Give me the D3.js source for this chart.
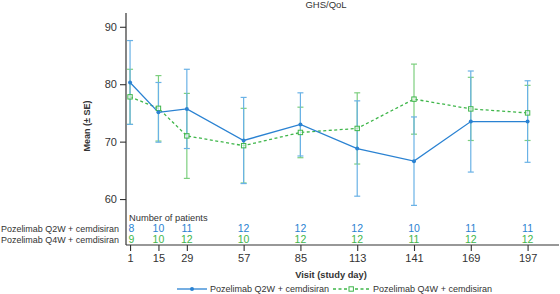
<!DOCTYPE html>
<html>
<head>
<meta charset="utf-8">
<script src="https://cdn.jsdelivr.net/npm/d3@7"></script>
<style>
    body { margin: 0; background: #fff; }
    text { font-family: Arial, "Liberation Sans", sans-serif; }
</style>
</head>
<body>
<div id="vis"></div>
<script>
//set up static width and height
const width = 560
const height = 294

//data
const days = [1, 15, 29, 57, 85, 113, 141, 169, 197]
const q2wMean = [80.3, 75.1, 75.7, 70.2, 73.0, 68.8, 66.6, 73.5, 73.5]
const q2wSE = [7.3, 5.2, 6.9, 7.5, 5.5, 8.3, 7.7, 8.8, 7.1]
const q4wMean = [77.8, 75.8, 71.0, 69.3, 71.6, 72.3, 77.4, 75.7, 75.0]
const q4wSE = [4.8, 5.7, 7.4, 6.5, 4.4, 6.2, 6.1, 5.5, 4.8]
const q2wN = [8, 10, 11, 12, 12, 12, 10, 11, 11]
const q4wN = [9, 10, 12, 10, 12, 12, 11, 12, 12]
const yTicks = [60, 70, 80, 90]
const seriesNames = ['Pozelimab Q2W + cemdisiran', 'Pozelimab Q4W + cemdisiran']

const blue = '#2a82d2'
const blueErr = '#6ab2e6'
const green = '#3fb64a'
const greenErr = '#7dcf7f'

const svg = d3.select('#vis')
    .append('svg')
    .attr('width', width)
    .attr('height', height)

//scales
const x = d3.scaleLinear()
    .domain([-1, 212])
    .range([126, 558])

const y = d3.scaleLinear()
    .domain([52, 92.4])
    .range([245, 13])

//build series objects from the arrays
const series = [
    {name: seriesNames[0], mean: q2wMean, se: q2wSE, color: blue, err: blueErr, dash: null},
    {name: seriesNames[1], mean: q4wMean, se: q4wSE, color: green, err: greenErr, dash: '3,2.5'}
].map(s => ({...s, points: days.map((d, i) => ({day: d, v: s.mean[i], se: s.se[i]}))}))

//error bars, q4w first so q2w sits on top
const drawOrder = [series[1], series[0]]
drawOrder.forEach(s => {
    const g = svg.append('g')
        .attr('stroke', s.err)
        .attr('stroke-width', 1.2)
        .attr('fill', 'none')
    const bars = g.selectAll('.err')
        .data(s.points)
        .enter()
        .append('g')
    bars.append('line')
        .attr('x1', d => x(d.day)).attr('x2', d => x(d.day))
        .attr('y1', d => y(d.v - d.se)).attr('y2', d => y(d.v + d.se))
    bars.append('line')
        .attr('x1', d => x(d.day) - 3).attr('x2', d => x(d.day) + 3)
        .attr('y1', d => y(d.v + d.se)).attr('y2', d => y(d.v + d.se))
    bars.append('line')
        .attr('x1', d => x(d.day) - 3).attr('x2', d => x(d.day) + 3)
        .attr('y1', d => y(d.v - d.se)).attr('y2', d => y(d.v - d.se))
})

//lines
const line = d3.line()
    .x(d => x(d.day))
    .y(d => y(d.v))

drawOrder.forEach(s => {
    svg.append('path')
        .datum(s.points)
        .attr('d', line)
        .attr('fill', 'none')
        .attr('stroke', s.color)
        .attr('stroke-width', 1.3)
        .attr('stroke-dasharray', s.dash)
})

//markers
svg.selectAll('.sq')
    .data(series[1].points)
    .enter()
    .append('rect')
    .attr('x', d => x(d.day) - 2.2)
    .attr('y', d => y(d.v) - 2.2)
    .attr('width', 4.4)
    .attr('height', 4.4)
    .attr('fill', '#fff')
    .attr('fill-opacity', 0.6)
    .attr('stroke', green)
    .attr('stroke-width', 1)

svg.selectAll('.dot')
    .data(series[0].points)
    .enter()
    .append('circle')
    .attr('cx', d => x(d.day))
    .attr('cy', d => y(d.v))
    .attr('r', 2)
    .attr('fill', blue)

//axes
const yAxis = svg.append('g')
    .attr('transform', 'translate(126,0)')
    .call(d3.axisLeft(y).tickValues(yTicks).tickSize(6).tickPadding(3))
const xAxis = svg.append('g')
    .attr('transform', 'translate(0,245)')
    .call(d3.axisBottom(x).tickValues(days).tickFormat(d3.format('d')).tickSize(6).tickPadding(3))

;[yAxis, xAxis].forEach(a => {
    a.select('.domain').attr('stroke', '#333').attr('stroke-width', 1.2)
    a.selectAll('.tick line').attr('stroke', '#333').attr('stroke-width', 1.1)
    a.selectAll('.tick text').attr('font-size', 11).attr('fill', '#333')
})
//remove end stubs of the domain paths
yAxis.select('.domain').attr('d', 'M0,13V245')
xAxis.select('.domain').attr('d', 'M126,0H559')

//title and axis titles
svg.append('text')
    .attr('x', 326).attr('y', 8)
    .attr('text-anchor', 'middle')
    .attr('font-size', 9.5)
    .attr('fill', '#333')
    .text('GHS/QoL')

svg.append('text')
    .attr('transform', 'translate(90,126) rotate(-90)')
    .attr('text-anchor', 'middle')
    .attr('font-size', 9)
    .attr('font-weight', 'bold')
    .attr('fill', '#333')
    .text('Mean (± SE)')

svg.append('text')
    .attr('x', 331).attr('y', 278)
    .attr('text-anchor', 'middle')
    .attr('font-size', 9.3)
    .attr('font-weight', 'bold')
    .attr('fill', '#333')
    .text('Visit (study day)')

//number of patients table
svg.append('text')
    .attr('x', 129).attr('y', 221)
    .attr('font-size', 9.3)
    .attr('fill', '#333')
    .text('Number of patients')

const rows = [{label: seriesNames[0], n: q2wN, color: blue, y: 232}, {label: seriesNames[1], n: q4wN, color: green, y: 243}]
rows.forEach(r => {
    svg.append('text')
        .attr('x', 1).attr('y', r.y - 0.5)
        .attr('font-size', 9)
        .attr('textLength', 118)
        .attr('lengthAdjust', 'spacingAndGlyphs')
        .attr('fill', '#333')
        .text(r.label)
    svg.selectAll(null)
        .data(r.n)
        .enter()
        .append('text')
        .attr('x', (d, i) => i === 0 ? x(days[i]) - 1.5 : x(days[i]))
        .attr('y', r.y)
        .attr('text-anchor', (d, i) => i === 0 ? 'start' : 'middle')
        .attr('font-size', 10.5)
        .attr('fill', r.color)
        .text(d => d)
})

//legend
const legend = svg.append('g').attr('transform', 'translate(0,289)')
legend.append('line')
    .attr('x1', 177).attr('x2', 207).attr('y1', 0).attr('y2', 0)
    .attr('stroke', blue).attr('stroke-width', 1.3)
legend.append('circle')
    .attr('cx', 192).attr('cy', 0).attr('r', 2).attr('fill', blue)
legend.append('text')
    .attr('x', 210).attr('y', 3.3)
    .attr('font-size', 9)
    .attr('textLength', 119)
    .attr('lengthAdjust', 'spacingAndGlyphs')
    .attr('fill', '#333')
    .text(seriesNames[0])
legend.append('line')
    .attr('x1', 333).attr('x2', 370).attr('y1', 0).attr('y2', 0)
    .attr('stroke', green).attr('stroke-width', 1.3)
    .attr('stroke-dasharray', '3,2.5')
legend.append('rect')
    .attr('x', 349).attr('y', -2.2).attr('width', 4.4).attr('height', 4.4)
    .attr('fill', '#fff').attr('stroke', green)
legend.append('text')
    .attr('x', 373).attr('y', 3.3)
    .attr('font-size', 9)
    .attr('textLength', 119)
    .attr('lengthAdjust', 'spacingAndGlyphs')
    .attr('fill', '#333')
    .text(seriesNames[1])
</script>
</body>
</html>
